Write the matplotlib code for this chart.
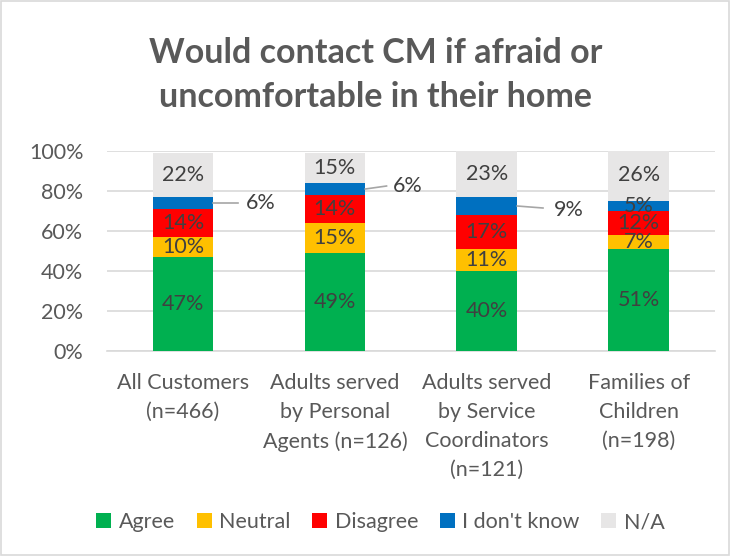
import matplotlib
matplotlib.use("Agg")
import matplotlib.pyplot as plt
from matplotlib.patches import Rectangle

categories = ["All Customers\n(n=466)", "Adults served\nby Personal\nAgents (n=126)",
              "Adults served\nby Service\nCoordinators\n(n=121)", "Families of\nChildren\n(n=198)"]
series_names = ["Agree", "Neutral", "Disagree", "I don't know", "N/A"]
agree = [47, 49, 40, 51]
neutral = [10, 15, 11, 7]
disagree = [14, 14, 17, 12]
dont_know = [6, 6, 9, 5]
na = [22, 15, 23, 26]
colors = ["#00B050", "#FFC000", "#FF0000", "#0070C0", "#E7E6E6"]
yticks = [0, 20, 40, 60, 80, 100]

plt.rcParams['font.family'] = ['Lato', 'DejaVu Sans']
fig = plt.figure(figsize=(7.3, 5.56), dpi=100)
ax = fig.add_axes([0.1466, 0.3687, 0.8324, 0.3597])

series = [agree, neutral, disagree, dont_know, na]
x = list(range(len(categories)))
bottoms = [0] * len(categories)
label_color = "#404040"
FS = 15.5
# leader-line label placement for "I don't know" (x offset of text, y offset of text, line end dx, line end dy)
leader = {0: (0.51, 0.0, 0.36, 0.0), 1: (0.48, 1.5, 0.34, 1.5), 2: (0.54, -2.0, 0.37, -1.0)}
for si, (vals, col, name) in enumerate(zip(series, colors, series_names)):
    ax.bar(x, vals, width=0.4, bottom=bottoms, color=col, label=name, zorder=3)
    for i, v in enumerate(vals):
        mid = bottoms[i] + v / 2
        if si == 3 and i in leader:
            tx, ty, lx, ly = leader[i]
            ax.plot([i + 0.2, i + lx], [mid, mid + ly], color="#A6A6A6", lw=1.2,
                    zorder=4, clip_on=False)
            ax.text(i + tx, mid + ty, f"{v}%", ha="center", va="center",
                    fontsize=FS, color=label_color, zorder=5)
        else:
            ax.text(i, mid, f"{v}%", ha="center", va="center", fontsize=FS,
                    color=label_color, zorder=5)
    bottoms = [b + v for b, v in zip(bottoms, vals)]

ax.set_xlim(-0.5, len(categories) - 0.5)
ax.set_ylim(0, 100)
ax.set_yticks(yticks)
ax.set_yticklabels([f"{t}%" for t in yticks], fontsize=FS, color="#595959")
ax.set_xticks(x)
ax.set_xticklabels(categories, fontsize=FS, color="#595959", va="top", linespacing=1.55)
ax.tick_params(axis="y", length=0, pad=17)
ax.tick_params(axis="x", length=0, pad=16)
ax.grid(axis="y", color="#D9D9D9", lw=1.2, zorder=0)
for s in ["top", "right", "left"]:
    ax.spines[s].set_visible(False)
ax.spines["bottom"].set_color("#D9D9D9")
ax.spines["bottom"].set_linewidth(1.2)

fig.text(0.515, 0.865, "Would contact CM if afraid or\nuncomfortable in their home", ha="center",
         va="center", fontsize=24.5, fontweight="bold", color="#595959", linespacing=1.45)

fig.legend(loc="center", bbox_to_anchor=(0.521, 0.061), ncol=5, frameon=False,
           fontsize=FS, handlelength=0.7, handleheight=0.7, columnspacing=1.0,
           handletextpad=0.35, labelcolor="#595959")

fig.patches.append(Rectangle((0.002, 0.002), 0.996, 0.996, transform=fig.transFigure,
                             fill=False, edgecolor="#D9D9D9", lw=1.2))
fig.savefig("out.png", dpi=100)
